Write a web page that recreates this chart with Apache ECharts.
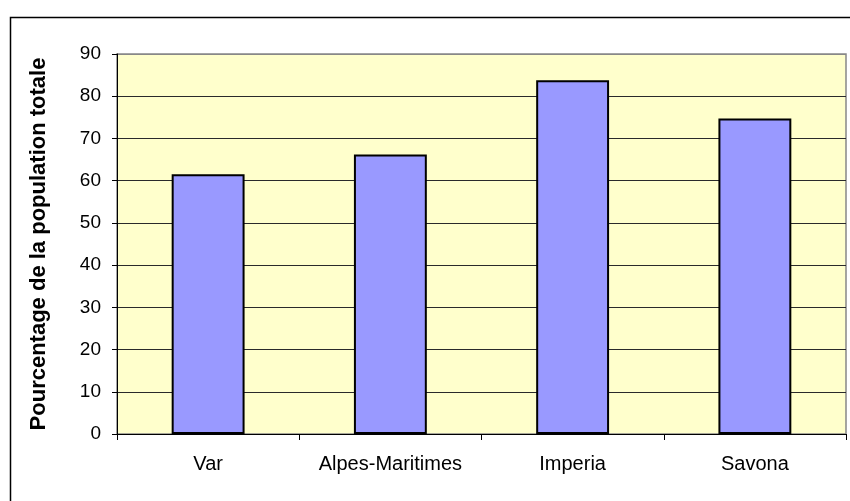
<!DOCTYPE html>
<html>
<head>
<meta charset="utf-8">
<script src="https://cdn.jsdelivr.net/npm/echarts@6/dist/echarts.min.js"></script>
<style>html,body{margin:0;padding:0;background:#fff;}#c{width:850px;height:501px;}</style>
</head>
<body>
<div id="c"></div>
<script>
const categories = ['Var', 'Alpes-Maritimes', 'Imperia', 'Savona'];
const values = [61.5, 66.2, 83.8, 74.7];
const yTicks = [0, 10, 20, 30, 40, 50, 60, 70, 80, 90];
const yTitle = 'Pourcentage de la population totale';

const chart = echarts.init(document.getElementById('c'), null, {renderer: 'canvas'});
const font = 'Liberation Sans, Arial, sans-serif';
const gridColors = yTicks.map((t, i) => i === yTicks.length - 1 ? '#888888' : '#2a2a2a');
chart.setOption({
  animation: false,
  backgroundColor: '#ffffff',
  graphic: [{
    type: 'rect', left: 8, top: 15, z: -10,
    shape: {width: 860, height: 500},
    style: {fill: 'none', stroke: '#000', lineWidth: 1.5}
  }],
  grid: {
    left: 117, top: 54, width: 729, height: 380,
    show: true, backgroundColor: '#FFFFCC', borderColor: '#888888', borderWidth: 1.5
  },
  xAxis: {
    type: 'category', data: categories,
    axisLine: {show: true, lineStyle: {color: '#000', width: 1}},
    axisTick: {show: true, length: 6, interval: 0, lineStyle: {color: '#000'}},
    axisLabel: {color: '#000', fontFamily: font, fontSize: 20, margin: 20, interval: 0, hideOverlap: false}
  },
  yAxis: {
    type: 'value', min: 0, max: 90, interval: 10,
    name: yTitle, nameLocation: 'middle', nameGap: 67,
    nameTextStyle: {color: '#000', fontFamily: font, fontSize: 22, fontWeight: 'bold'},
    axisLine: {show: true, lineStyle: {color: '#000', width: 1}},
    axisTick: {show: true, length: 5, lineStyle: {color: '#000'}},
    axisLabel: {color: '#000', fontFamily: font, fontSize: 19, margin: 16,
      formatter: v => yTicks.includes(v) ? String(v) : ''},
    splitLine: {show: true, lineStyle: {color: gridColors, width: 1.2}}
  },
  series: [{
    type: 'bar', data: values, barWidth: '40%',
    itemStyle: {color: '#9999FF', borderColor: '#000', borderWidth: 2}
  }]
});
</script>
</body>
</html>
